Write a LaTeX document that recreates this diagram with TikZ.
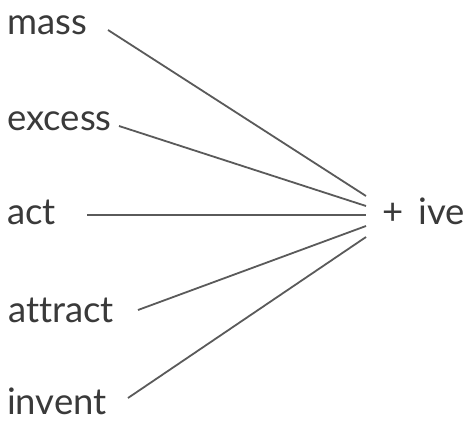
\documentclass[tikz,border=0pt]{standalone}
\usepackage{fontspec}
\setmainfont[Ligatures={NoCommon}]{Lato}
\definecolor{txt}{HTML}{3A3A3A}
\definecolor{ln}{HTML}{5A5A5A}
\begin{document}
\begin{tikzpicture}[x=1pt,y=-1pt,
  word/.style={anchor=base west,inner sep=0pt,text=txt,font=\fontsize{36.5}{40}\selectfont},
  link/.style={draw=ln,line width=1.8pt}]
\useasboundingbox[fill=white] (0,0) rectangle (468,423);
\node[word] (mass) at (7,34) {mass};
\node[word] (excess) at (7,130) {excess};
\node[word] (act) at (7,224) {act};
\node[word] (attract) at (8,322) {attract};
\node[word] (invent) at (7,414) {invent};
\node[word] (ive) at (382,224) {+\hspace{15pt}ive};
\coordinate (s1) at (108,30);
\coordinate (s2) at (119,126);
\coordinate (s3) at (87,215);
\coordinate (s4) at (138,310);
\coordinate (s5) at (128,398);
\coordinate (e1) at (366,196);
\coordinate (e2) at (366,206);
\coordinate (e3) at (366,215);
\coordinate (e4) at (366,226);
\coordinate (e5) at (366,237);
\draw[link] (s1) -- (e1);
\draw[link] (s2) -- (e2);
\draw[link] (s3) -- (e3);
\draw[link] (s4) -- (e4);
\draw[link] (s5) -- (e5);
\end{tikzpicture}
\end{document}
